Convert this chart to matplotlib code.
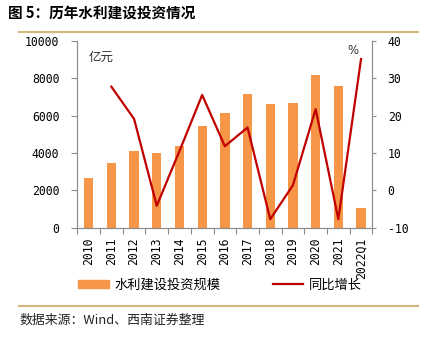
import matplotlib
matplotlib.use("Agg")
import matplotlib.pyplot as plt
from matplotlib.lines import Line2D
from matplotlib.patches import Patch
import numpy as np

plt.rcParams['font.family'] = ['Noto Sans CJK SC', 'DejaVu Sans']

# annual water-conservancy construction investment (100m CNY) and YoY growth (%)
years = ['2010', '2011', '2012', '2013', '2014', '2015', '2016',
         '2017', '2018', '2019', '2020', '2021', '2022Q1']
invest = [2670, 3460, 4100, 3980, 4370, 5450, 6120, 7150, 6630, 6690, 8180, 7590, 1070]
yoy = [np.nan, 27.7, 19.1, -4.1, 10.5, 25.5, 11.8, 16.8, -7.7, 1.4, 21.7, -7.7, 35.1]

BAR = '#F79646'
LINE = '#C00000'
GRID = '#8C8C8C'
TAN = '#D4B67E'

fig = plt.figure(figsize=(4.32, 3.39), dpi=100)
ax = fig.add_axes([0.179, 0.328, 0.683, 0.552])
ax2 = ax.twinx()

x = np.arange(len(years))
ax.bar(x, invest, width=0.41, color=BAR, zorder=2)
ax2.plot(x, yoy, color=LINE, lw=1.6, zorder=3)

ax.set_xlim(-0.5, len(years) - 0.5)
ax.set_ylim(0, 10000)
ax2.set_ylim(-10, 40)
ax.set_yticks(range(0, 10001, 2000))
ax2.set_yticks(range(-10, 41, 10))

mono = dict(family='DejaVu Sans Mono', size=8.3)
ax.set_xticks(x)
ax.set_xticklabels(years, rotation=90, fontdict=mono, va='top')
ax.set_xticks(np.arange(-0.5, len(years)), minor=True)
ax.tick_params(axis='x', which='major', length=0, pad=7)
ax.tick_params(axis='x', which='minor', length=4, color=GRID, width=0.8)
ax.set_yticklabels([str(v) for v in range(0, 10001, 2000)], fontdict=mono)
ax2.set_yticklabels([str(v) for v in range(-10, 41, 10)], fontdict=mono)
ax.tick_params(axis='y', length=4, color=GRID, width=0.8, pad=9)
ax2.tick_params(axis='y', length=3, color=GRID, width=0.8, pad=8)

for a in (ax, ax2):
    a.spines['top'].set_visible(False)
    for s in ('left', 'right', 'bottom'):
        a.spines[s].set_color(GRID)
        a.spines[s].set_linewidth(0.8)

ax.text(0.04, 0.91, '亿元', transform=ax.transAxes, fontsize=9, color='#333333', va='center')
ax2.text(0.935, 0.95, '%', transform=ax.transAxes, fontsize=8.5, color='#333333',
         va='center', ha='center', family='DejaVu Sans')

# title, rules, legend and source note
fig.text(0.019, 0.962, '图 5：历年水利建设投资情况', fontsize=10.5, fontweight='bold', va='center')
fig.add_artist(Line2D([0.044, 0.968], [0.907, 0.907], color=TAN, lw=1.5))
fig.add_artist(Line2D([0.044, 0.968], [0.098, 0.098], color=TAN, lw=1.5))

handles = [Patch(color=BAR), Line2D([], [], color=LINE, lw=1.6)]
fig.legend(handles, ['水利建设投资规模', '同比增长'], loc='center',
           bbox_to_anchor=(0.509, 0.159), ncol=2, frameon=False, fontsize=9.5,
           handlelength=2.3, handleheight=0.5, columnspacing=4.0, handletextpad=0.4)

fig.text(0.046, 0.054, '数据来源：Wind、西南证券整理', fontsize=9.3, style='italic',
         color='#222222', va='center')

fig.savefig('out.png', dpi=100)
